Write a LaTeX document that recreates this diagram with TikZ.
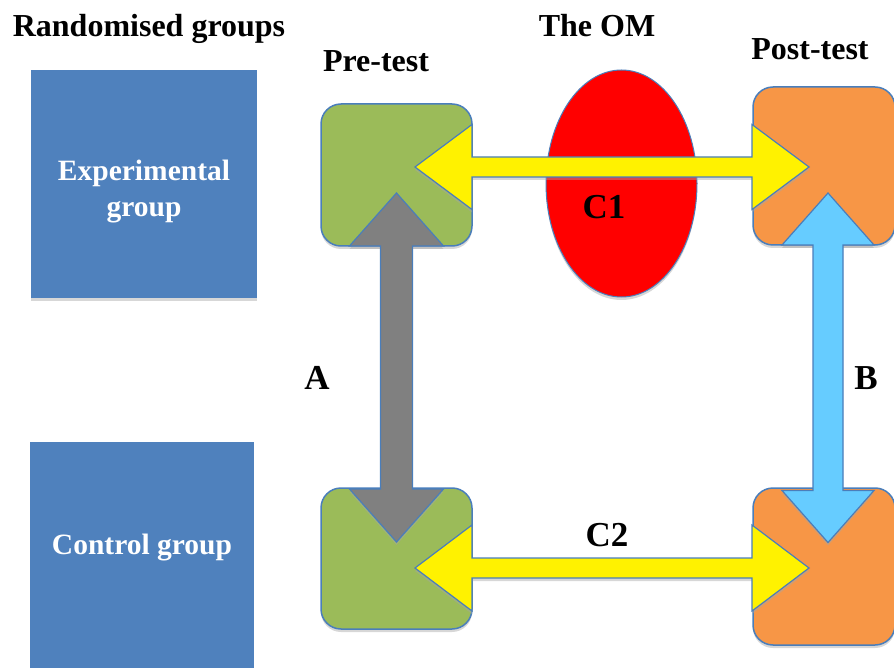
\documentclass[tikz,border=0pt]{standalone}
\usepackage{fontspec}
\setmainfont{Liberation Serif}
\usetikzlibrary{shapes.geometric,calc,shadows}

\definecolor{grpblue}{HTML}{4F81BD}
\definecolor{edgeblue}{HTML}{4A7EBB}
\definecolor{pregreen}{HTML}{9BBB59}
\definecolor{postorange}{HTML}{F79646}
\definecolor{skyblue}{HTML}{66CCFF}

\tikzset{
  softshadow/.style={drop shadow={shadow xshift=0pt,shadow yshift=-3pt,fill=black!35,opacity=.45}},
  grpbox/.style={fill=grpblue,draw=none,inner sep=0pt,softshadow},
  grptext/.style={text=white,font=\fontsize{29.5}{36}\selectfont\bfseries,align=center,inner sep=0pt},
  testbox/.style={draw=edgeblue,line width=1.5pt,rounded corners=20pt,inner sep=0pt,softshadow},
  heading/.style={font=\fontsize{32}{36}\selectfont\bfseries,anchor=base,inner sep=0pt},
  letter/.style={font=\fontsize{35}{40}\selectfont\bfseries,inner sep=0pt},
  blockarrow/.style={draw=edgeblue,line width=1.2pt,line join=miter,softshadow}
}

% #1 style, #2 from, #3 to, #4 half shaft, #5 half head, #6 head length
\newcommand{\dblarrow}[6]{%
  \coordinate (#2h) at ($(#2)!#6!(#3)$);
  \coordinate (#3h) at ($(#3)!#6!(#2)$);
  \path[blockarrow,#1] (#2)
    -- ($(#2h)!#5!90:(#3)$) -- ($(#2h)!#4!90:(#3)$)
    -- ($(#3h)!#4!-90:(#2)$) -- ($(#3h)!#5!-90:(#2)$)
    -- (#3)
    -- ($(#3h)!#5!90:(#2)$) -- ($(#3h)!#4!90:(#2)$)
    -- ($(#2h)!#4!-90:(#3)$) -- ($(#2h)!#5!-90:(#3)$)
    -- cycle;
}

\begin{document}
\begin{tikzpicture}[x=1pt,y=-1pt]
  \useasboundingbox (0,0) rectangle (894,668);

  % headings
  \node[heading] (rand) at (149,37) {Randomised groups};
  \node[heading] (om) at (597,37) {The OM};
  \node[heading] (pre) at (376,72) {Pre-test};
  \node[heading] (post) at (810,60) {Post-test};

  % randomised groups
  \node[grpbox,minimum width=226,minimum height=228] (exp) at (144,184) {};
  \node[grptext] (exptext) at ($(exp.center)+(0,8)$) {Experimental\\group};
  \node[grpbox,minimum width=224,minimum height=226] (ctrl) at (142,555) {};
  \node[grptext] (ctrltext) at ($(ctrl.center)+(0,-7)$) {Control group};

  % the OM
  \node[ellipse,fill=red,draw=edgeblue,line width=1pt,minimum width=151,minimum height=227,softshadow] (ell) at (621.5,183.5) {};

  % tests
  \node[testbox,fill=pregreen,minimum width=151,minimum height=142] (pre1) at (396.5,175) {};
  \node[testbox,fill=postorange,minimum width=142,minimum height=158] (post1) at (824,166) {};
  \node[testbox,fill=pregreen,minimum width=151,minimum height=141] (pre2) at (396.5,558.5) {};
  \node[testbox,fill=postorange,minimum width=142,minimum height=157] (post2) at (824,566.5) {};

  % arrow ends
  \coordinate (c1a) at ($(pre1.center)+(18.5,-8)$);
  \coordinate (c1b) at ($(post1.center)+(-15,1)$);
  \coordinate (c2a) at ($(pre2.center)+(18.5,9.5)$);
  \coordinate (c2b) at ($(post2.center)+(-15,1.5)$);
  \coordinate (aa) at ($(pre1.center)+(0,18)$);
  \coordinate (ab) at ($(pre2.center)+(0,-16.5)$);
  \coordinate (ba) at ($(post1.center)+(4,27)$);
  \coordinate (bb) at ($(post2.center)+(4,-24)$);

  \dblarrow{fill=yellow}{c1a}{c1b}{10pt}{42.5pt}{57pt}
  \dblarrow{fill=yellow}{c2a}{c2b}{10pt}{43pt}{57pt}
  \dblarrow{fill=gray}{aa}{ab}{16pt}{47pt}{53pt}
  \dblarrow{fill=skyblue}{ba}{bb}{15pt}{46pt}{52pt}

  % labels
  \node[letter] (la) at (317,378) {A};
  \node[letter] (lb) at (866,378) {B};
  \node[letter] (lc1) at (604,207) {C1};
  \node[letter] (lc2) at (607,535) {C2};
\end{tikzpicture}
\end{document}
